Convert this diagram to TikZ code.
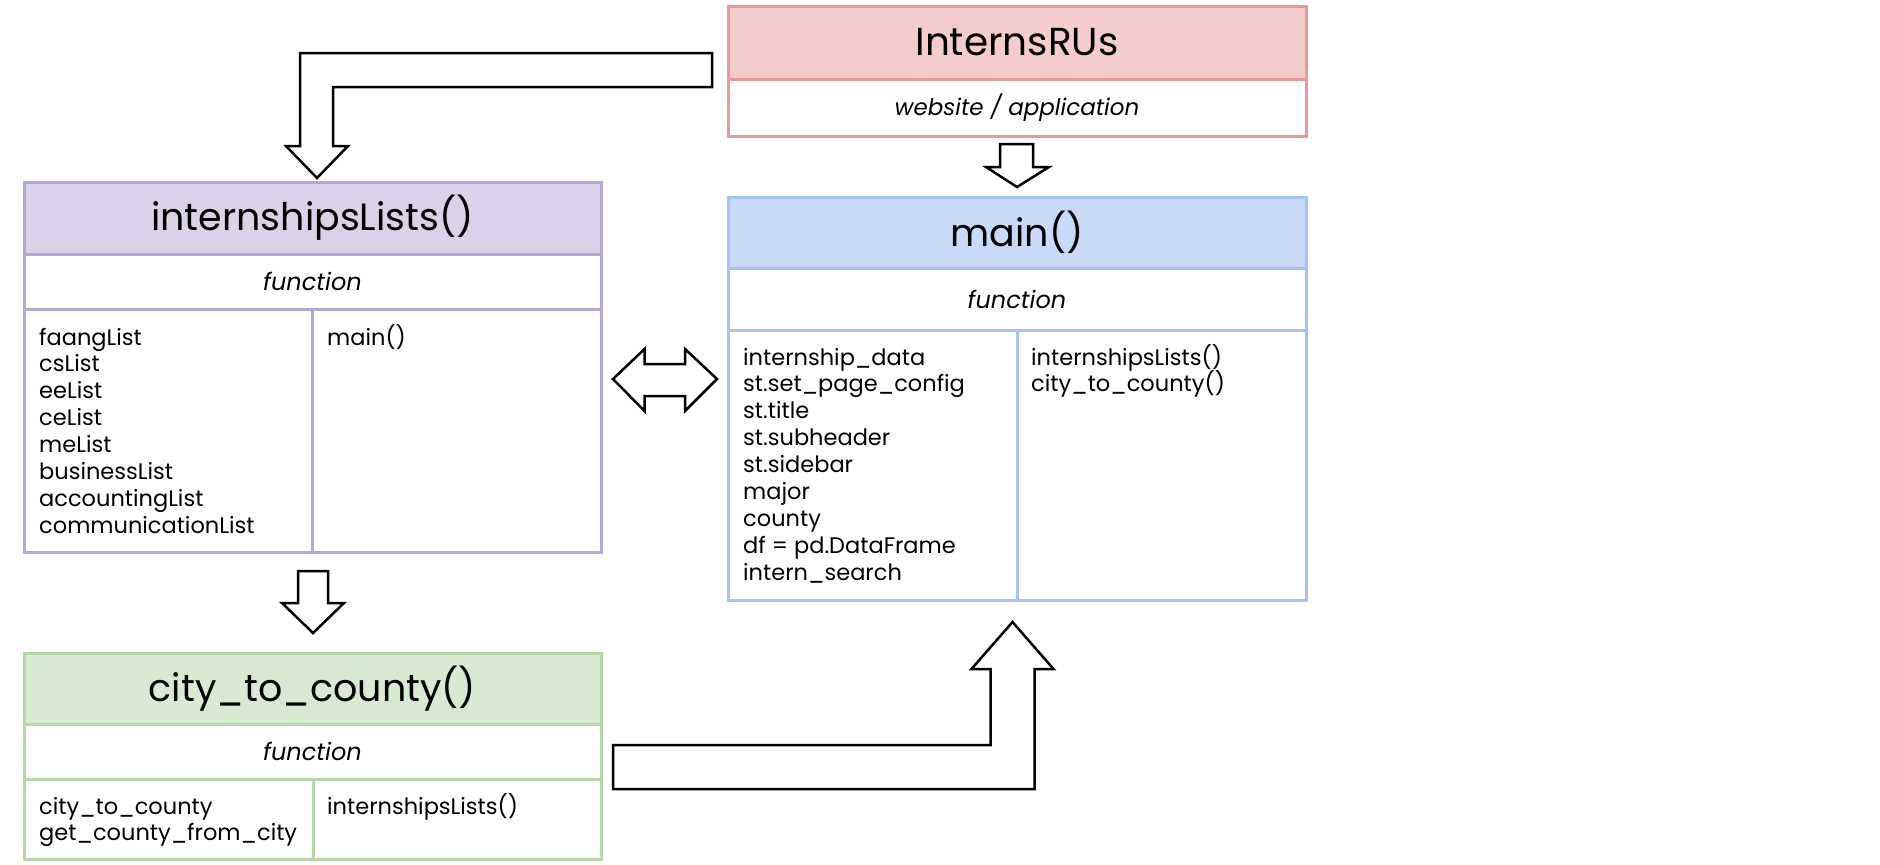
\documentclass[tikz,border=0pt]{standalone}
\usepackage{fontspec}
\setmainfont{Poppins}
\definecolor{pinkF}{HTML}{F4CCCC}
\definecolor{pinkD}{HTML}{EA9999}
\definecolor{purpF}{HTML}{D9D2E9}
\definecolor{purpD}{HTML}{B4A7D6}
\definecolor{blueF}{HTML}{C9DAF8}
\definecolor{blueD}{HTML}{A4C2F4}
\definecolor{grnF}{HTML}{D9EAD3}
\definecolor{grnD}{HTML}{B6D7A8}
\tikzset{
  cell/.style={draw, line width=3pt, inner sep=0pt, outer sep=0pt, anchor=north west, fill=white},
  hdr/.style={cell, font=\fontsize{38}{44}\selectfont},
  sub/.style={cell, font=\itshape\fontsize{24}{28}\selectfont},
  lst/.style={anchor=base west, inner sep=0pt, font=\fontsize{22.5}{28}\selectfont},
  blk/.style={draw=black, fill=white, line width=2.5pt, line join=miter},
}
\begin{document}
\begin{tikzpicture}[x=1pt,y=-1pt]
\useasboundingbox (0,0) rectangle (1880,865);
\fill[white] (0,0) rectangle (1880,865);

% InternsRUs
\node[hdr, draw=pinkD, fill=pinkF, minimum width=578, minimum height=73, font=\fontsize{39}{44}\selectfont] (rH) at (728,6) {InternsRUs};
\node[sub, draw=pinkD, minimum width=578, minimum height=57, font=\itshape\fontsize{23}{28}\selectfont] (rS) at (728,79) {website / application};

% main
\node[hdr, draw=blueD, fill=blueF, minimum width=578, minimum height=71] (mH) at (728,197) {main()};
\node[sub, draw=blueD, minimum width=578, minimum height=62] (mS) at (728,268) {function};
\node[cell, draw=blueD, minimum width=289, minimum height=270] (mL) at (728,330) {};
\node[cell, draw=blueD, minimum width=289, minimum height=270] (mR) at (1017,330) {};

% internshipsLists
\node[hdr, draw=purpD, fill=purpF, minimum width=577, minimum height=72] (iH) at (24,182) {internshipsLists()};
\node[sub, draw=purpD, minimum width=577, minimum height=55] (iS) at (24,254) {function};
\node[cell, draw=purpD, minimum width=288, minimum height=243] (iL) at (24,309) {};
\node[cell, draw=purpD, minimum width=289, minimum height=243] (iR) at (312,309) {};

% city_to_county
\node[hdr, draw=grnD, fill=grnF, minimum width=577, minimum height=71] (cH) at (24,653) {city\_to\_county()};
\node[sub, draw=grnD, minimum width=577, minimum height=55] (cS) at (24,724) {function};
\node[cell, draw=grnD, minimum width=289, minimum height=80] (cL) at (24,779) {};
\node[cell, draw=grnD, minimum width=288, minimum height=80] (cR) at (313,779) {};

% list texts
\foreach \t [count=\i from 0] in {faangList, csList, eeList, ceList, meList, businessList, accountingList, communicationList}
  \node[lst] (il\i) at (39,{345+\i*26.9}) {\t};
\node[lst] (ir0) at (327,345) {main()};
\foreach \t [count=\i from 0] in {internship\_data, st.set\_page\_config, st.title, st.subheader, st.sidebar, major, county, df = pd.DataFrame, intern\_search}
  \node[lst] (ml\i) at (743,{365+\i*26.9}) {\t};
\node[lst] (mr0) at (1031,365) {internshipsLists()};
\node[lst] (mr1) at (1031,391.9) {city\_to\_county()};
\node[lst] (cl0) at (39,814) {city\_to\_county};
\node[lst] (cl1) at (39,840.9) {get\_county\_from\_city};
\node[lst] (cr0) at (327,814) {internshipsLists()};

% block arrows
\draw[blk] (712,53) -- (300,53) -- (300,146) -- (286,146) -- (317,178) -- (348,146) -- (333,146) -- (333,87) -- (712,87) -- cycle;
\draw[blk] (1000,144) -- (1033,144) -- (1033,167) -- (1049,167) -- (1017,187) -- (986,167) -- (1000,167) -- cycle;
\draw[blk] (613,379) -- (644.5,349) -- (644.5,364) -- (685,364) -- (685,349) -- (717,379) -- (685,411) -- (685,396) -- (644.5,396) -- (644.5,411) -- cycle;
\draw[blk] (298,571) -- (328,571) -- (328,603) -- (344,603) -- (313,633) -- (282,603) -- (298,603) -- cycle;
\draw[blk] (613,745) -- (990.5,745) -- (990.5,669) -- (971.5,669) -- (1012.5,622) -- (1053.5,669) -- (1034.5,669) -- (1034.5,789) -- (613,789) -- cycle;
\end{tikzpicture}
\end{document}
